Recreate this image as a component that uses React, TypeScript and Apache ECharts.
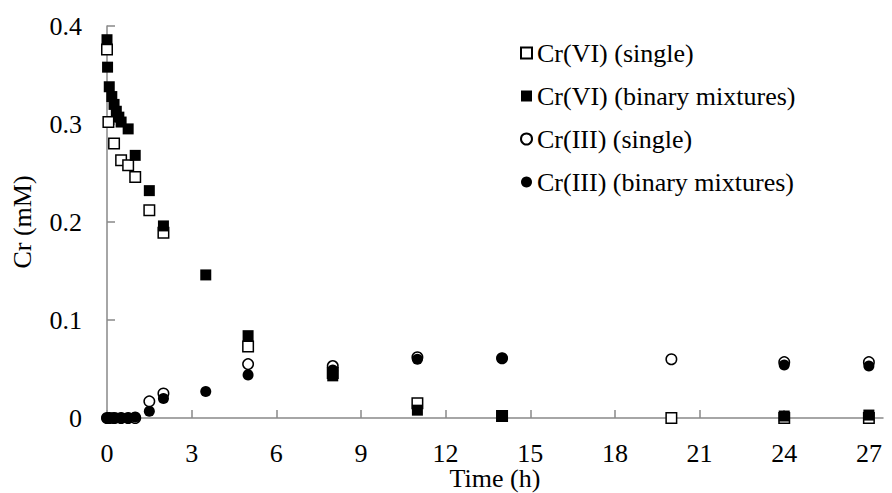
import React, { useEffect, useRef } from "react";
import * as echarts from "echarts";

const xTicks = [0, 3, 6, 9, 12, 15, 18, 21, 24, 27];
const yTicks = [0, 0.1, 0.2, 0.3, 0.4];

const crVISingle: [number, number][] = [
  [0, 0.376], [0.05, 0.302], [0.25, 0.28], [0.5, 0.263], [0.75, 0.258], [1, 0.246],
  [1.5, 0.212], [2, 0.189], [5, 0.073], [8, 0.046], [11, 0.015], [14, 0.002],
  [20, 0.0], [24, 0.0], [27, 0.0],
];
const crVIBinary: [number, number][] = [
  [0, 0.386], [0.02, 0.358], [0.08, 0.338], [0.17, 0.328], [0.25, 0.32], [0.33, 0.313],
  [0.42, 0.307], [0.5, 0.302], [0.75, 0.295], [1, 0.268], [1.5, 0.232], [2, 0.196],
  [3.5, 0.146], [5, 0.084], [8, 0.043], [11, 0.008], [14, 0.002], [24, 0.002], [27, 0.003],
];
const crIIISingle: [number, number][] = [
  [0, 0], [0.083, 0], [0.25, 0], [0.5, 0], [0.75, 0], [1, 0], [1.5, 0.017], [2, 0.025],
  [5, 0.055], [8, 0.053], [11, 0.062], [14, 0.061], [20, 0.06], [24, 0.057], [27, 0.057],
];
const crIIIBinary: [number, number][] = [
  [0, 0], [0.083, 0], [0.17, 0], [0.25, 0], [0.33, 0], [0.5, 0], [0.75, 0], [1, 0.001],
  [1.5, 0.007], [2, 0.02], [3.5, 0.027], [5, 0.044], [8, 0.049], [11, 0.06], [14, 0.061],
  [24, 0.054], [27, 0.053],
];

const FONT = "'Liberation Serif', 'Times New Roman', serif";
const AXIS_COLOR = "#898989";
const FS = 26;

export default function App() {
  const ref = useRef<HTMLDivElement>(null);
  useEffect(() => {
    if (!ref.current) return;
    const chart = echarts.init(ref.current, undefined, { renderer: "svg" });
    const openStyle = { color: "#ffffff", borderColor: "#000000", borderWidth: 1.5, opacity: 1 };
    const filledStyle = { color: "#000000", borderColor: "#000000", borderWidth: 0, opacity: 1 };
    chart.setOption({
      animation: false,
      textStyle: { fontFamily: FONT },
      grid: { left: 99, right: 9, top: 18, bottom: 75, containLabel: false, outerBoundsMode: "none" },
      legend: {
        orient: "vertical",
        left: 507,
        top: 27,
        itemWidth: 11,
        itemHeight: 11,
        itemGap: 17,
        textStyle: { fontFamily: FONT, fontSize: FS, color: "#000", lineHeight: 26 },
        data: [
          { name: "Cr(VI) (single)", icon: "rect" },
          { name: "Cr(VI) (binary mixtures)", icon: "rect" },
          { name: "Cr(III) (single)", icon: "circle" },
          { name: "Cr(III) (binary mixtures)", icon: "circle" },
        ],
      },
      xAxis: {
        type: "value",
        min: 0,
        max: 27.5,
        name: "Time (h)",
        nameLocation: "middle",
        nameGap: 51,
        nameMoveOverlap: false,
        nameTextStyle: { fontFamily: FONT, fontSize: FS, color: "#000", lineHeight: 18 },
        axisLine: { show: true, lineStyle: { color: AXIS_COLOR, width: 1.5 } },
        axisTick: {
          show: true,
          inside: true,
          length: 8,
          customValues: xTicks,
          lineStyle: { color: AXIS_COLOR, width: 1.5 },
        },
        axisLabel: {
          fontFamily: FONT,
          fontSize: FS,
          color: "#000",
          margin: 26,
          lineHeight: 18,
          customValues: xTicks,
        },
        splitLine: { show: false },
      },
      yAxis: {
        type: "value",
        min: yTicks[0],
        max: yTicks[yTicks.length - 1],
        interval: 0.1,
        name: "Cr (mM)",
        nameLocation: "middle",
        nameGap: 72,
        nameMoveOverlap: false,
        nameTextStyle: { fontFamily: FONT, fontSize: FS, color: "#000" },
        axisLine: { show: true, lineStyle: { color: AXIS_COLOR, width: 1.5 } },
        axisTick: { show: true, inside: true, length: 8, lineStyle: { color: AXIS_COLOR, width: 1.5 } },
        axisLabel: {
          fontFamily: FONT,
          fontSize: FS,
          color: "#000",
          margin: 25,
          formatter: (v: number) => (v === 0 ? "0" : String(Math.round(v * 10) / 10)),
        },
        splitLine: { show: false },
      },
      series: [
        { name: "Cr(VI) (single)", type: "scatter", symbol: "rect", symbolSize: 10.5, data: crVISingle, itemStyle: openStyle, z: 2 },
        { name: "Cr(VI) (binary mixtures)", type: "scatter", symbol: "rect", symbolSize: 11, data: crVIBinary, itemStyle: filledStyle, z: 3 },
        { name: "Cr(III) (single)", type: "scatter", symbol: "circle", symbolSize: 10.5, data: crIIISingle, itemStyle: openStyle, z: 4 },
        { name: "Cr(III) (binary mixtures)", type: "scatter", symbol: "circle", symbolSize: 11, data: crIIIBinary, itemStyle: filledStyle, z: 5 },
      ],
    });
    return () => chart.dispose();
  }, []);
  return <div ref={ref} style={{ width: 884, height: 485 }} />;
}
